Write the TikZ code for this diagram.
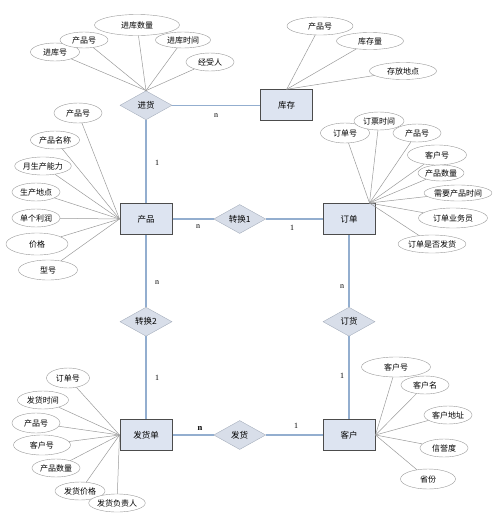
\documentclass[tikz,border=0pt]{standalone}
\usepackage{fontspec}
\setmainfont{Liberation Serif}
\newfontfamily\cjk{Noto Sans CJK SC}
\usetikzlibrary{shapes.geometric, positioning}

\definecolor{entfill}{HTML}{DDE4F1}
\definecolor{relfill}{HTML}{D8DEE9}
\definecolor{reldraw}{HTML}{A7AFBD}
\definecolor{linkblue}{HTML}{93AECF}
\definecolor{attrdraw}{HTML}{9A9A9A}

\begin{document}
\begin{tikzpicture}[
        x=1pt, y=-1pt,
        entity/.style={rectangle, draw=black!70, line width=1pt, fill=entfill, minimum width=52pt, minimum height=31pt, inner sep=0pt, font=\cjk\fontsize{8.5}{10}\selectfont},
        relation/.style={diamond, draw=reldraw, fill=relfill, aspect=1.8, minimum width=52pt, minimum height=29pt, inner sep=0pt, font=\cjk\fontsize{8.5}{10}\selectfont},
        attr/.style={ellipse, draw=attrdraw, fill=white, minimum width=48pt, minimum height=18pt, inner sep=0pt, font=\cjk\fontsize{8}{9}\selectfont},
        link/.style={draw=linkblue, line width=1.3pt},
        attrline/.style={draw=attrdraw, line width=0.5pt},
        card/.style={inner sep=0pt, font=\fontsize{8}{9}\selectfont}
    ]
        \useasboundingbox (0,0) rectangle (500,528);

        % Entities and relations
        \node[entity] (chanpin) at (146,219) {产品};
        \node[entity, right=150pt of chanpin] (dingdan) {订单};
        \node[entity, below=184pt of chanpin] (fahuodan) {发货单};
        \node[entity, right=150pt of fahuodan] (kehu) {客户};
        \node[relation, above=83pt of chanpin] (jinhuo) {进货};
        \node[entity, right=88pt of jinhuo] (kucun) {库存};
        \node[relation, right=41pt of chanpin] (zhuan1) {转换1};
        \node[relation, below=72pt of chanpin] (zhuan2) {转换2};
        \node[relation, below=72pt of dingdan] (dinghuo) {订货};
        \node[relation, right=41pt of fahuodan] (fahuo) {发货};

        % Links
        \draw[link] (jinhuo) -- (kucun);
        \draw[link] (jinhuo) -- (chanpin);
        \draw[link] (chanpin) -- (zhuan1);
        \draw[link] (zhuan1) -- (dingdan);
        \draw[link] (chanpin) -- (zhuan2);
        \draw[link] (zhuan2) -- (fahuodan);
        \draw[link] (dingdan) -- (dinghuo);
        \draw[link] (dinghuo) -- (kehu);
        \draw[link] (fahuodan) -- (fahuo);
        \draw[link] (fahuo) -- (kehu);

        % Cardinalities
        \node[card] (c1) at (216,116) {n};
        \node[card] (c2) at (157,163) {1};
        \node[card] (c3) at (198,227) {n};
        \node[card] (c4) at (292,228) {1};
        \node[card] (c5) at (157,283) {n};
        \node[card] (c6) at (157,378) {1};
        \node[card] (c7) at (342,287) {n};
        \node[card] (c8) at (342,376) {1};
        \node[card, font=\bfseries\fontsize{8.5}{9}\selectfont] (c9) at (200,428) {n};
        \node[card] (c10) at (296,426) {1};

        % Attributes of jinhuo
        \node[attr, minimum width=49pt] (jh1) at (55,52) {进库号};
        \node[attr, minimum height=16pt] (jh2) at (84,40) {产品号};
        \node[attr, minimum width=85pt, minimum height=21pt] (jh3) at (137,25) {进库数量};
        \node[attr, minimum width=55pt, minimum height=16pt] (jh4) at (183,40) {进库时间};
        \node[attr] (jh5) at (210,62) {经受人};
        \foreach \a in {jh1,jh2,jh3,jh4,jh5}
            \draw[attrline] (jinhuo.north) -- (\a);

        % Attributes of kucun
        \node[attr, minimum width=66pt] (kc1) at (320,26) {产品号};
        \node[attr, minimum width=67pt, minimum height=17pt] (kc2) at (370,41) {库存量};
        \node[attr, minimum width=67pt, minimum height=17pt] (kc3) at (403,71) {存放地点};
        \foreach \a in {kc1,kc2,kc3}
            \draw[attrline] (kucun.north) -- (\a);

        % Attributes of chanpin
        \node[attr, minimum height=20pt] (cp1) at (78,113) {产品号};
        \node[attr, minimum width=49pt] (cp2) at (55,140) {产品名称};
        \node[attr] (cp3) at (43,166) {月生产能力};
        \node[attr] (cp4) at (36,192) {生产地点};
        \node[attr] (cp5) at (36,218) {单个利润};
        \node[attr, minimum width=62pt, minimum height=22pt] (cp6) at (37,244) {价格};
        \node[attr, minimum width=59pt, minimum height=20pt] (cp7) at (48,270) {型号};
        \foreach \a in {cp1,cp2,cp3,cp4,cp5,cp6,cp7}
            \draw[attrline] (chanpin.west) -- (\a);

        % Attributes of dingdan
        \coordinate (ddhub) at ([xshift=-6pt]dingdan.north east);
        \node[attr, minimum width=49pt, minimum height=20pt] (dd1) at (345,133) {订单号};
        \node[attr] (dd3) at (417,133) {产品号};
        \node[attr, minimum width=50pt] (dd2) at (379,121) {订票时间};
        \node[attr, minimum width=59pt, minimum height=20pt] (dd4) at (437,155) {客户号};
        \node[attr, minimum width=46pt, minimum height=16pt] (dd5) at (441,173) {产品数量};
        \node[attr, minimum width=57pt, minimum height=16pt] (dd6) at (458,193) {需要产品时间};
        \node[attr, minimum width=69pt, minimum height=20pt] (dd7) at (453,218) {订单业务员};
        \node[attr, minimum width=53pt] (dd8) at (432,244) {订单是否发货};
        \foreach \a in {dd1,dd2,dd3,dd4,dd5,dd6,dd7,dd8}
            \draw[attrline] (ddhub) -- (\a);

        % Attributes of fahuodan
        \node[attr, minimum width=43pt, minimum height=20pt] (fh1) at (68,378) {订单号};
        \node[attr, minimum width=51pt] (fh2) at (43,400) {发货时间};
        \node[attr, minimum height=20pt] (fh3) at (36,423) {产品号};
        \node[attr, minimum width=57pt, minimum height=20pt] (fh4) at (42,445) {客户号};
        \node[attr] (fh5) at (56,468) {产品数量};
        \node[attr, minimum width=50pt] (fh6) at (80,491) {发货价格};
        \node[attr, minimum width=50pt] (fh7) at (117,503) {发货负责人};
        \foreach \a in {fh1,fh2,fh3,fh4,fh5,fh6,fh7}
            \draw[attrline] (fahuodan.west) -- (\a);

        % Attributes of kehu
        \node[attr, minimum width=69pt, minimum height=20pt] (kh1) at (396,367) {客户号};
        \node[attr] (kh2) at (425,385) {客户名};
        \node[attr] (kh3) at (448,415) {客户地址};
        \node[attr] (kh4) at (444,448) {信誉度};
        \node[attr, minimum width=55pt, minimum height=20pt] (kh5) at (428,479) {省份};
        \foreach \a in {kh1,kh2,kh3,kh4,kh5}
            \draw[attrline] (kehu.east) -- (\a);
    \end{tikzpicture}
\end{document}
